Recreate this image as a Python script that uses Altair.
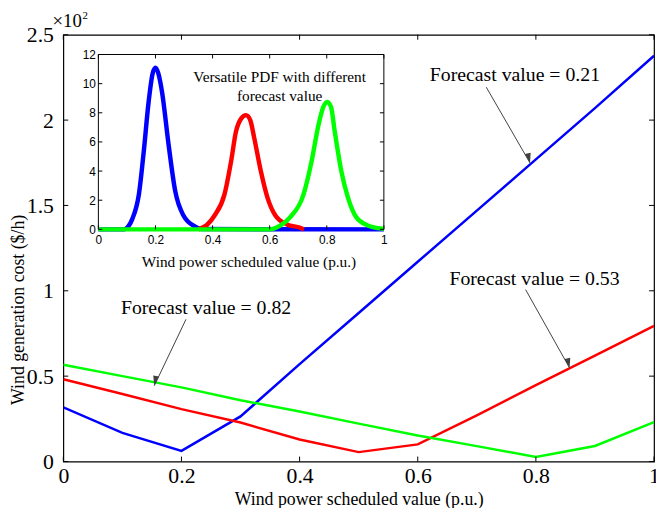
import math
import altair as alt
import pandas as pd

SERIF = "Liberation Serif"
SANS = "Liberation Sans"

# ---------------- data ----------------
SERIES = ["Forecast value = 0.21", "Forecast value = 0.53", "Forecast value = 0.82"]
COLORS = ["#0000ff", "#ff0000", "#00ff00"]

sched_x = [0, 0.1, 0.2, 0.3, 0.4, 0.5, 0.6, 0.7, 0.8, 0.9, 1.0]
cost_021 = [0.317, 0.168, 0.062, 0.264, 0.57, 0.87, 1.17, 1.47, 1.77, 2.07, 2.377]
cost_053 = [0.482, 0.395, 0.307, 0.228, 0.129, 0.055, 0.10, 0.27, 0.447, 0.62, 0.795]
cost_082 = [0.567, 0.50, 0.434, 0.359, 0.293, 0.222, 0.152, 0.09, 0.027, 0.091, 0.23]

x_ticks = [0, 0.2, 0.4, 0.6, 0.8, 1.0]
y_ticks = [0, 0.5, 1.0, 1.5, 2.0, 2.5]

# inset PDFs
pdf_x_021 = [0, 0.09, 0.105, 0.119, 0.142, 0.159, 0.176, 0.19, 0.2, 0.21, 0.223, 0.246, 0.269, 0.298, 0.338, 0.36, 1.0]
pdf_y_021 = [0, 0, 0.2, 0.72, 2.42, 5.36, 8.75, 10.7, 11.1, 10.7, 9.42, 5.8, 2.64, 0.95, 0.2, 0.02, 0]
pdf_x_053 = [0.35, 0.38, 0.407, 0.442, 0.465, 0.482, 0.50, 0.517, 0.532, 0.546, 0.569, 0.592, 0.62, 0.661, 0.707, 0.72]
pdf_y_053 = [0, 0.3, 0.95, 2.42, 4.68, 6.71, 7.6, 7.84, 7.5, 6.26, 4.0, 2.19, 0.95, 0.34, 0.11, 0.0]
pdf_x_082 = [0, 0.60, 0.638, 0.672, 0.719, 0.747, 0.771, 0.788, 0.802, 0.815, 0.828, 0.851, 0.874, 0.903, 0.944, 0.995, 1.0]
pdf_y_082 = [0, 0, 0.27, 0.84, 2.42, 4.68, 7.16, 8.4, 8.75, 8.4, 6.71, 4.0, 2.19, 0.84, 0.27, 0.05, 0.04]
inset_y_ticks = [0, 2, 4, 6, 8, 10, 12]

# annotations
ann_text_x = [0.7645, 0.7977, 0.2416]
ann_text_y = [2.263, 1.068, 0.897]
arrow_x0 = [0.716, 0.7826, 0.2077]
arrow_y0 = [2.193, 1.007, 0.833]
arrow_x1 = [0.790, 0.857, 0.154]
arrow_y1 = [1.749, 0.548, 0.444]

inset_note = ["Versatile PDF with different", "forecast value"]
inset_note_x = [0.635, 0.635]
inset_note_y = [10.44, 9.15]

exponent_base = ["\u00d710"]
exponent_power = ["2"]

# ---------------- layout ----------------
W, H = 598, 432
IX_RANGE = [35.5, 324.5]
IY_RANGE = [197, 20]
TICK = 5

xs = alt.Scale(domain=[0, 1], nice=False, zero=False)
ys = alt.Scale(domain=[0, 2.5], nice=False)
ix = alt.Scale(domain=[0, 1], range=IX_RANGE, nice=False, zero=False)
iy = alt.Scale(domain=[0, 12], range=IY_RANGE, nice=False)
cs = alt.Scale(domain=SERIES, range=COLORS)

main_df = pd.DataFrame({
    "x": sched_x * 3,
    "y": cost_021 + cost_053 + cost_082,
    "series": [SERIES[0]] * 11 + [SERIES[1]] * 11 + [SERIES[2]] * 11,
})

lines = alt.Chart(main_df).mark_line(strokeWidth=2.5, clip=True).encode(
    x=alt.X("x:Q", scale=xs, axis=alt.Axis(
        values=x_ticks, format="~g", ticks=False, domain=False, grid=False,
        labelFont=SERIF, labelFontSize=22, labelColor="black", labelPadding=14,
        labelBaseline="middle", labelFlush=False, labelOverlap=False,
        title="Wind power scheduled value (p.u.)", titleFont=SERIF, titleFontSize=18,
        titleFontWeight="normal", titleColor="black", titleBaseline="middle", titleY=39)),
    y=alt.Y("y:Q", scale=ys, axis=alt.Axis(
        values=y_ticks, format="~g", ticks=False, domain=False, grid=False,
        labelFont=SERIF, labelFontSize=22, labelColor="black", labelPadding=10,
        labelOverlap=False,
        title="Wind generation cost ($/h)", titleFont=SERIF, titleFontSize=18,
        titleFontWeight="normal", titleColor="black", titleAngle=270,
        titleX=-45, titleY=278, titleAlign="center", titleBaseline="middle")),
    color=alt.Color("series:N", scale=cs, legend=None),
)

ann_df = pd.DataFrame({
    "tx": ann_text_x, "ty": ann_text_y, "label": SERIES,
    "x0": arrow_x0, "y0": arrow_y0, "x1": arrow_x1, "y1": arrow_y1,
})
ann_df["angle"] = [
    (math.degrees(math.atan2((b - a) * W, (d - c) * H)) + 360) % 360
    for a, b, c, d in zip(arrow_x0, arrow_x1, arrow_y0, arrow_y1)
]

ann_text = alt.Chart(ann_df).mark_text(font=SERIF, fontSize=20, color="black",
                                       align="center", baseline="middle").encode(
    x=alt.X("tx:Q", scale=xs, axis=None),
    y=alt.Y("ty:Q", scale=ys, axis=None),
    text="label:N",
)
arrow_lines = alt.Chart(ann_df).mark_rule(color="#404040", strokeWidth=1).encode(
    x=alt.X("x0:Q", scale=xs, axis=None), x2="x1:Q",
    y=alt.Y("y0:Q", scale=ys, axis=None), y2="y1:Q",
)
arrow_heads = alt.Chart(ann_df).mark_point(
    shape="M0,0L-0.3,1L0.3,1Z", filled=True, size=400, color="#404040", opacity=1
).encode(
    x=alt.X("x1:Q", scale=xs, axis=None),
    y=alt.Y("y1:Q", scale=ys, axis=None),
    angle=alt.Angle("angle:Q", scale=None),
)

xt_df = pd.DataFrame({"v": x_ticks})
yt_df = pd.DataFrame({"v": y_ticks})
tick_style = dict(color="black", strokeWidth=1)
main_ticks = [
    alt.Chart(xt_df).mark_rule(**tick_style).encode(
        x=alt.X("v:Q", scale=xs, axis=None), y=alt.value(H), y2=alt.value(H - TICK)),
    alt.Chart(xt_df).mark_rule(**tick_style).encode(
        x=alt.X("v:Q", scale=xs, axis=None), y=alt.value(0), y2=alt.value(TICK)),
    alt.Chart(yt_df).mark_rule(**tick_style).encode(
        y=alt.Y("v:Q", scale=ys, axis=None), x=alt.value(0), x2=alt.value(TICK)),
    alt.Chart(yt_df).mark_rule(**tick_style).encode(
        y=alt.Y("v:Q", scale=ys, axis=None), x=alt.value(W), x2=alt.value(W - TICK)),
]

expo_base = alt.Chart(pd.DataFrame({"t": exponent_base})).mark_text(
    font=SERIF, fontSize=19, color="black", align="left", baseline="middle"
).encode(text="t:N", x=alt.value(-11), y=alt.value(-14))
expo_pow = alt.Chart(pd.DataFrame({"t": exponent_power})).mark_text(
    font=SERIF, fontSize=11, color="black", align="left", baseline="middle"
).encode(text="t:N", x=alt.value(19.5), y=alt.value(-19))

# ---------------- inset ----------------
frame_df = pd.DataFrame({"x0": [0], "x1": [1], "y0": [0], "y1": [12]})
frame = alt.Chart(frame_df).mark_rect(fill="white", stroke="black", strokeWidth=1).encode(
    x=alt.X("x0:Q", scale=ix, axis=None), x2="x1:Q",
    y=alt.Y("y0:Q", scale=iy, axis=None), y2="y1:Q",
)

pdf_df = pd.DataFrame({
    "px": pdf_x_021 + pdf_x_053 + pdf_x_082,
    "py": pdf_y_021 + pdf_y_053 + pdf_y_082,
    "series": [SERIES[0]] * len(pdf_x_021) + [SERIES[1]] * len(pdf_x_053) + [SERIES[2]] * len(pdf_x_082),
})
pdf_lines = alt.Chart(pdf_df).mark_line(strokeWidth=4.5, interpolate="monotone").encode(
    x=alt.X("px:Q", scale=ix, axis=alt.Axis(
        orient="bottom", offset=-(H - IY_RANGE[0]), values=x_ticks, format="~g",
        ticks=False, domain=False, grid=False,
        labelFont=SANS, labelFontSize=12, labelColor="black", labelPadding=10,
        labelBaseline="middle", labelFlush=False, labelOverlap=False,
        title="Wind power scheduled value (p.u.)", titleFont=SERIF, titleFontSize=15.5,
        titleFontWeight="normal", titleColor="black", titleBaseline="middle",
        titleX=187.5, titleY=33)),
    y=alt.Y("py:Q", scale=iy, axis=alt.Axis(
        orient="left", offset=-IX_RANGE[0], values=inset_y_ticks,
        ticks=False, domain=False, grid=False,
        labelFont=SANS, labelFontSize=12, labelColor="black", labelPadding=3,
        labelOverlap=False, title="")),
    color=alt.Color("series:N", scale=cs, legend=None),
    order=alt.Order("px:Q"),
)

note_df = pd.DataFrame({"nx": inset_note_x, "ny": inset_note_y, "t": inset_note})
note = alt.Chart(note_df).mark_text(font=SERIF, fontSize=15.5, color="black",
                                    align="center", baseline="middle").encode(
    x=alt.X("nx:Q", scale=ix, axis=None),
    y=alt.Y("ny:Q", scale=iy, axis=None),
    text="t:N",
)

iyt_df = pd.DataFrame({"v": inset_y_ticks})
ITICK = 4
inset_ticks = [
    alt.Chart(xt_df).mark_rule(**tick_style).encode(
        x=alt.X("v:Q", scale=ix, axis=None), y=alt.value(IY_RANGE[0]), y2=alt.value(IY_RANGE[0] - ITICK)),
    alt.Chart(xt_df).mark_rule(**tick_style).encode(
        x=alt.X("v:Q", scale=ix, axis=None), y=alt.value(IY_RANGE[1]), y2=alt.value(IY_RANGE[1] + ITICK)),
    alt.Chart(iyt_df).mark_rule(**tick_style).encode(
        y=alt.Y("v:Q", scale=iy, axis=None), x=alt.value(IX_RANGE[0]), x2=alt.value(IX_RANGE[0] + ITICK)),
    alt.Chart(iyt_df).mark_rule(**tick_style).encode(
        y=alt.Y("v:Q", scale=iy, axis=None), x=alt.value(IX_RANGE[1]), x2=alt.value(IX_RANGE[1] - ITICK)),
]

chart = alt.layer(
    lines, arrow_lines, arrow_heads, ann_text, *main_ticks, expo_base, expo_pow,
    frame, pdf_lines, note, *inset_ticks,
).resolve_scale(
    x="independent", y="independent"
).properties(
    width=W, height=H,
    padding={"left": 56, "top": 24, "right": 2, "bottom": 44},
    autosize=alt.AutoSizeParams(type="none"),
).configure(background="white").configure_view(stroke="black", strokeWidth=1.2)

chart.save("out.html", embed_options={"renderer": "svg", "actions": False})
